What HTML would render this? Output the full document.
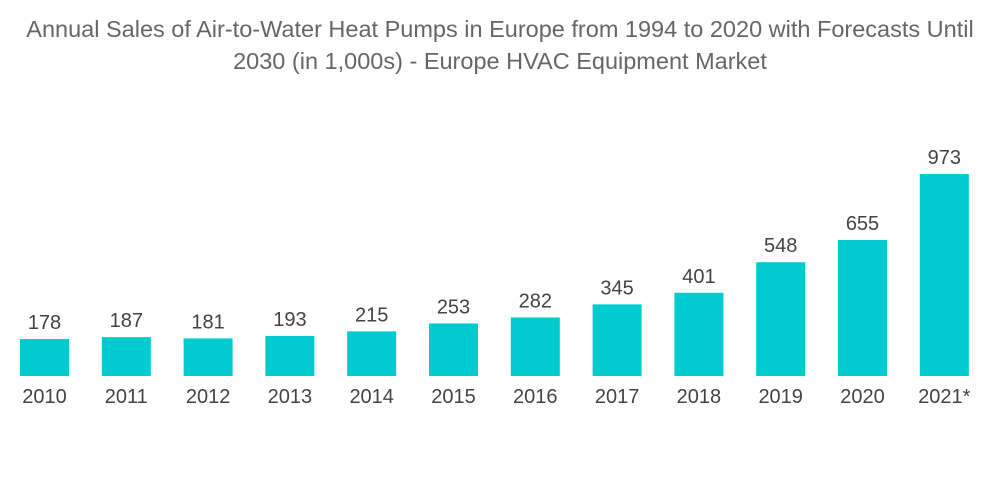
<!DOCTYPE html>
<html><head><meta charset="utf-8"><style>
body{margin:0;background:#fff;width:1000px;height:504px;overflow:hidden;font-family:"Liberation Sans",sans-serif}
#title{position:absolute;left:0;top:13px;width:1000px;text-align:center;color:#666;font-size:23.5px;line-height:32px}
</style></head><body>
<div id="title">Annual Sales of Air-to-Water Heat Pumps in Europe from 1994 to 2020 with Forecasts Until<br>2030 (in 1,000s) - Europe HVAC Equipment Market</div>
<svg id="chart" width="1000" height="504" style="position:absolute;left:0;top:0"></svg>
<script>
const categories=["2010","2011","2012","2013","2014","2015","2016","2017","2018","2019","2020","2021*"];
const values=[178,187,181,193,215,253,282,345,401,548,655,973];
const svg=document.getElementById('chart');
const NS='http://www.w3.org/2000/svg';
const baseY=376, scale=202/973, x0=20, step=81.8, bw=49;
function xPos(i){return x0+i*step;}
function yPos(v){return baseY-v*scale;}
categories.forEach((c,i)=>{
  const r=document.createElementNS(NS,'rect');
  r.setAttribute('x',xPos(i));r.setAttribute('y',yPos(values[i]));
  r.setAttribute('width',bw);r.setAttribute('height',baseY-yPos(values[i]));
  r.setAttribute('fill','#00ccd0');
  
  
  svg.appendChild(r);
  const t=document.createElementNS(NS,'text');
  t.setAttribute('x',xPos(i)+bw/2);t.setAttribute('y',yPos(values[i])-10);
  t.setAttribute('text-anchor','middle');t.setAttribute('font-size','20');t.setAttribute('fill','#444');
  t.setAttribute('font-family','Liberation Sans, sans-serif');
  t.textContent=values[i];
  
  
  svg.appendChild(t);
  const l=document.createElementNS(NS,'text');
  l.setAttribute('x',xPos(i)+bw/2);l.setAttribute('y',403);
  l.setAttribute('text-anchor','middle');l.setAttribute('font-size','20');l.setAttribute('fill','#444');
  l.setAttribute('font-family','Liberation Sans, sans-serif');
  l.textContent=c;
  
  
  svg.appendChild(l);
});
</script>
</body></html>
